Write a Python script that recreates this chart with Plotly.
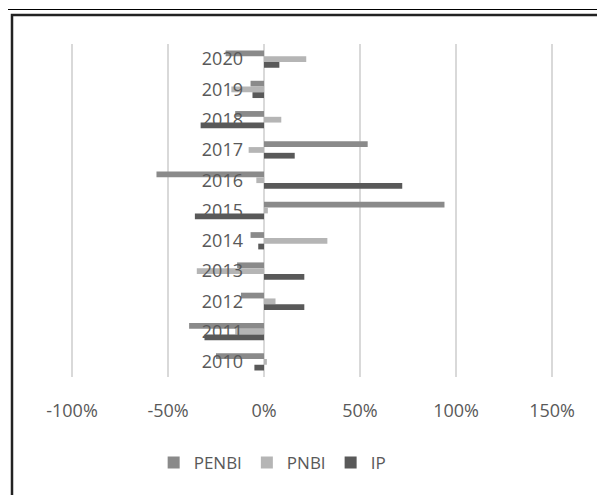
import plotly.graph_objects as go

years = ["2020", "2019", "2018", "2017", "2016", "2015", "2014", "2013", "2012", "2011", "2010"]
penbi = [-20, -7, -15, 54, -56, 94, -7, -14, -12, -39, -25]
pnbi = [22, -17, 9, -8, -4, 2, 33, -35, 6, -15, 1.5]
ip = [8, -6, -33, 16, 72, -36, -3, 21, 21, -31, -5]
xticks = [-100, -50, 0, 50, 100, 150]
xlabels = ["-100%", "-50%", "0%", "50%", "100%", "150%"]

series = [("PENBI", penbi, "#8a8a8a"), ("PNBI", pnbi, "#b5b5b5"), ("IP", ip, "#595959")]

fig = go.Figure()
for name, vals, col in series:
    fig.add_trace(go.Bar(y=years, x=vals, name=name, orientation="h",
                         marker=dict(color=col, line=dict(width=0))))

# window pixel -> paper helpers (plot area 72..552 x, 44..377 y; page has 8px body margin)
def px(x):
    return (x - 72) / 480

def py(y):
    return (377 - y) / 333

shapes = [
    dict(type="line", xref="paper", yref="paper", x0=px(3.5), x1=px(3.5), y0=py(-5), y1=py(510),
         line=dict(color="black", width=1)),
    dict(type="line", xref="paper", yref="paper", x0=px(3.5), x1=px(620), y0=py(9.5), y1=py(9.5),
         line=dict(color="black", width=1)),
    dict(type="rect", xref="paper", yref="paper", x0=px(12), x1=px(630), y0=py(15), y1=py(530),
         line=dict(color="#222222", width=2.5)),
]
# edge gridlines (plotly drops them at the range ends)
for xp in (0, 1):
    shapes.append(dict(type="line", xref="paper", yref="paper", x0=xp, x1=xp, y0=0, y1=1,
                       layer="below", line=dict(color="#d9d9d9", width=2)))

fig.update_layout(
    width=605, height=495,
    margin=dict(l=64, r=61, t=36, b=126, autoexpand=False),
    paper_bgcolor="white", plot_bgcolor="white",
    barmode="group", bargap=0.43, bargroupgap=0,
    font=dict(family="Open Sans", size=18, color="#595959"),
    shapes=shapes,
    showlegend=True,
    legend=dict(orientation="h", x=0.417, xanchor="center", y=py(463), yanchor="middle",
                font=dict(size=17, color="#595959"), traceorder="normal",
                itemwidth=30),
    xaxis=dict(range=[-100, 150], tickvals=xticks, ticktext=xlabels,
               showgrid=True, gridcolor="#d9d9d9", gridwidth=2, zeroline=False,
               showline=False, ticks="", ticklabelstandoff=21, automargin=False),
    yaxis=dict(autorange="reversed", anchor="free", position=0.4, showgrid=False,
               showline=False, ticks="", ticklabelstandoff=21, zeroline=False,
               type="category", automargin=False),
)

fig.write_html("out.html")
